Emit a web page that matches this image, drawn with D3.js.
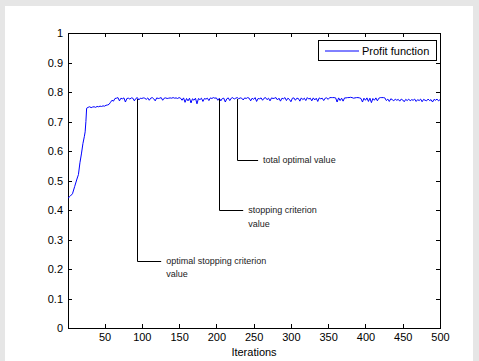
<!DOCTYPE html>
<html><head><meta charset="utf-8">
<script src="https://cdn.jsdelivr.net/npm/d3@7"></script>
<style>body{margin:0;background:#e6e6e6;}svg{display:block;font-family:"Liberation Sans",Arial,sans-serif;}</style>
</head><body>
<svg id="c" width="479" height="361"></svg>
<script>
// ---- data ----
const rampIter = [1,4,7,10,13,15,17,19,21,23,24,25,26,28,30,32,34,36,38,40,42,44,46,48,50,52,54,56,58,60,62,64];
const rampVals = [0.44,0.447,0.455,0.48,0.505,0.52,0.56,0.59,0.625,0.65,0.665,0.70,0.745,0.748,0.750,0.747,0.749,0.750,0.748,0.751,0.750,0.752,0.751,0.753,0.752,0.755,0.756,0.758,0.765,0.772,0.769,0.778];
const plateauStart = 66, plateauStep = 2;
const plateauVals = [
0.779,0.781,0.770,0.779,0.777,0.780,0.766,0.778,0.779,0.776,
0.780,0.779,0.770,0.778,0.781,0.773,0.779,0.778,0.780,0.779,
0.775,0.780,0.772,0.779,0.781,0.777,0.770,0.780,0.778,0.779,
0.781,0.772,0.779,0.780,0.778,0.779,0.780,0.779,0.781,0.779,
0.780,0.778,0.781,0.779,0.772,0.780,0.765,0.778,0.770,0.779,
0.763,0.777,0.772,0.779,0.760,0.778,0.774,0.779,0.768,0.778,
0.776,0.779,0.771,0.780,0.778,0.781,0.779,0.780,0.772,0.779,
0.770,0.778,0.779,0.766,0.777,0.780,0.771,0.779,0.781,0.776,
0.779,0.781,0.777,0.780,0.779,0.773,0.780,0.778,0.781,0.779,
0.770,0.779,0.775,0.781,0.768,0.778,0.777,0.780,0.772,0.779,
0.781,0.774,0.779,0.770,0.780,0.778,0.779,0.781,0.773,0.779,
0.769,0.779,0.777,0.781,0.771,0.779,0.775,0.767,0.779,0.780,
0.772,0.779,0.778,0.769,0.780,0.774,0.779,0.771,0.781,0.776,
0.779,0.770,0.780,0.773,0.779,0.768,0.780,0.777,0.779,0.771,
0.779,0.780,0.775,0.781,0.781,0.781,0.781,0.780,0.766,0.780,
0.771,0.779,0.769,0.780,0.780,0.781,0.781,0.782,0.781,0.779,
0.780,0.781,0.781,0.780,0.778,0.766,0.779,0.772,0.780,0.768,
0.779,0.764,0.778,0.772,0.780,0.770,0.779,0.781,0.781,0.781,
0.780,0.771,0.776,0.768,0.777,0.774,0.770,0.776,0.772,0.775,
0.769,0.776,0.773,0.767,0.775,0.771,0.776,0.770,0.774,0.772,
0.776,0.768,0.774,0.771,0.776,0.767,0.775,0.772,0.770,0.776,
0.771,0.774,0.766,0.775,0.772,0.776,0.770,0.774];
const xTicks = [50,100,150,200,250,300,350,400,450,500];
const yTicks = [0,0.1,0.2,0.3,0.4,0.5,0.6,0.7,0.8,0.9,1];
const seriesName = "Profit function";
const xLabel = "Iterations";
const annX = [94, 204, 228];
const annTop = 0.776;
const annBottom = [0.228, 0.40, 0.571];
const annEnd = [126, 236, 256];
const annText = [["optimal stopping criterion","value"],["stopping criterion","value"],["total optimal value"]];

// ---- build ----
const points = rampIter.map((x,i)=>[x, rampVals[i]])
  .concat(plateauVals.map((v,i)=>[plateauStart + i*plateauStep, v]));

const svg = d3.select("#c");
svg.append("rect").attr("x",5).attr("y",6).attr("width",468).attr("height",355).attr("fill","#fff");

const L=68, R=440, T=33, B=328;
const x = d3.scaleLinear().domain([1,500]).range([L,R]);
const y = d3.scaleLinear().domain([0,1]).range([B,T]);

const fmtY = d => d===0 ? "0" : d===1 ? "1" : d3.format(".1f")(d);

const gx = svg.append("g").attr("transform",`translate(0,${B})`)
  .call(d3.axisBottom(x).tickValues(xTicks).tickSizeInner(-4).tickSizeOuter(0).tickPadding(5));
const gy = svg.append("g").attr("transform",`translate(${L},0)`)
  .call(d3.axisLeft(y).tickValues(yTicks).tickFormat(fmtY).tickSizeInner(-4).tickSizeOuter(0).tickPadding(5));
const gt = svg.append("g").attr("transform",`translate(0,${T})`)
  .call(d3.axisTop(x).tickValues(xTicks).tickSizeInner(-4).tickSizeOuter(0).tickFormat(""));
const gr = svg.append("g").attr("transform",`translate(${R},0)`)
  .call(d3.axisRight(y).tickValues(yTicks).tickSizeInner(-4).tickSizeOuter(0).tickFormat(""));
[gx,gy,gt,gr].forEach(g=>{
  g.select(".domain").remove();
  g.selectAll("line").attr("stroke","#000").attr("shape-rendering","crispEdges");
  g.selectAll("text").attr("font-size",11).attr("fill","#000").attr("font-family","Liberation Sans, Arial, sans-serif");
});
svg.append("rect").attr("x",L).attr("y",T).attr("width",R-L).attr("height",B-T)
  .attr("fill","none").attr("stroke","#000").attr("shape-rendering","crispEdges");

// series
svg.append("path").datum(points)
  .attr("d", d3.line().x(d=>x(d[0])).y(d=>y(d[1])))
  .attr("fill","none").attr("stroke","#0000ff").attr("stroke-width",1);

// annotations
annX.forEach((ax,i)=>{
  svg.append("path")
    .attr("d",`M${Math.round(x(ax))+0.5},${y(annTop)}V${Math.round(y(annBottom[i]))+0.5}H${x(annEnd[i])}`)
    .attr("fill","none").attr("stroke","#000").attr("stroke-width",1);
  const t = svg.append("text").attr("x", x(annEnd[i])+5).attr("y", y(annBottom[i]))
    .attr("font-size",9).attr("fill","#222");
  annText[i].forEach((s,j)=>{
    t.append("tspan").attr("x", x(annEnd[i])+5).attr("dy", j===0 ? "0.35em" : "13.5").text(s);
  });
});

// legend
const lg = svg.append("g");
lg.append("rect").attr("x",318.5).attr("y",40.5).attr("width",118).attr("height",20)
  .attr("fill","#fff").attr("stroke","#000");
lg.append("line").attr("x1",325).attr("x2",359).attr("y1",51).attr("y2",51).attr("stroke","#0000ff");
lg.append("text").attr("x",362).attr("y",51).attr("dy","0.35em").attr("font-size",11).text(seriesName);

// x label
svg.append("text").attr("x",(L+R)/2).attr("y",352).attr("dy","0.35em").attr("text-anchor","middle")
  .attr("font-size",11).text(xLabel);
</script>
</body></html>
